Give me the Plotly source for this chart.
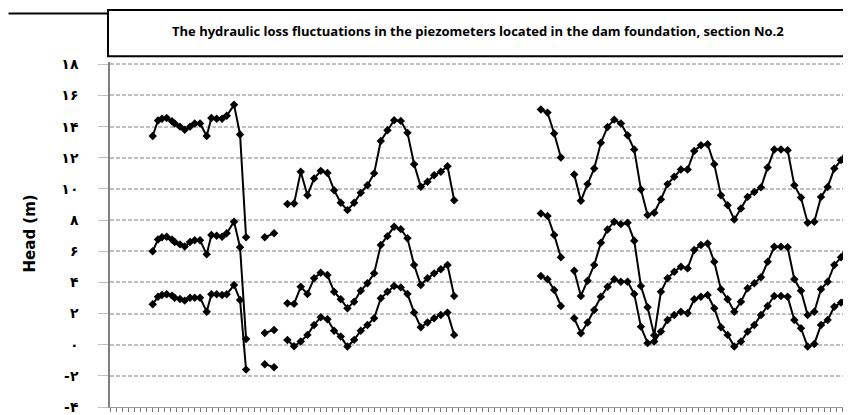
import plotly.graph_objects as go

# reading positions (one unit ~ one reading interval)
x_seg1 = [5.8, 6.6, 7.2, 7.9, 8.7, 9.1, 9.9, 10.6, 11.4, 12.1, 12.9, 13.9, 14.6, 15.4, 16.2, 16.9, 18.0, 18.9, 19.8]
x_seg2 = [22.6, 24.0]
x_seg3 = [26, 27, 28, 29, 30, 31, 32, 33, 34, 35, 36, 37, 38, 39, 40, 41, 42, 43, 44, 45, 46, 47, 48, 49, 50, 51]
x_seg4 = [64, 65, 66, 67]
x_seg5 = [69, 70, 71, 72, 73, 74, 75, 76, 77, 78, 79, 80, 81, 82, 83, 84, 85, 86, 87, 88, 89,
          90, 91, 92, 93, 94, 95, 96, 97, 98, 99, 100, 101, 102, 103, 104, 105, 106, 107, 108, 109, 110]

# upper piezometer
head_a1 = [13.4, 14.4, 14.5, 14.55, 14.35, 14.2, 14.0, 13.8, 14.0, 14.2, 14.2, 13.4, 14.55, 14.5, 14.5, 14.7, 15.4, 13.5, 6.9]
head_a2 = [6.9, 7.15]
head_a3 = [9.03, 9.07, 11.1, 9.6, 10.67, 11.16, 11.03, 9.92, 9.11, 8.64, 9.11, 9.75, 10.24, 11.0,
           13.08, 13.77, 14.41, 14.37, 13.6, 11.59, 10.14, 10.46, 10.88, 11.1, 11.46, 9.28]
head_a4 = [15.1, 14.9, 13.56, 12.02]
head_a5 = [10.93, 9.24, 10.31, 11.31, 12.96, 13.98, 14.45, 14.2, 13.45, 12.53, 9.97, 8.32, 8.47, 9.33,
           10.31, 10.78, 11.25, 11.25, 12.44, 12.81, 12.87, 11.59, 9.6, 8.96, 8.04, 8.75, 9.49, 9.81,
           10.1, 11.38, 12.53, 12.53, 12.49, 10.24, 9.45, 7.83, 7.9, 9.49, 10.13, 11.31, 11.85, 12.74]

# middle piezometer
head_b1 = [6.0, 6.76, 6.9, 6.93, 6.76, 6.6, 6.44, 6.3, 6.6, 6.7, 6.7, 5.8, 7.04, 7.0, 6.93, 7.15, 7.9, 6.25, 0.37]
head_b2 = [0.75, 0.95]
head_b3 = [2.66, 2.62, 3.72, 3.26, 4.26, 4.62, 4.47, 3.4, 2.92, 2.34, 2.76, 3.47, 3.94, 4.58,
           6.4, 6.97, 7.57, 7.42, 6.83, 5.12, 3.83, 4.26, 4.58, 4.84, 5.12, 3.13]
head_b4 = [8.43, 8.26, 7.04, 5.61]
head_b5 = [4.75, 3.13, 4.11, 5.12, 6.55, 7.4, 7.9, 7.74, 7.83, 6.67, 3.77, 2.4, 0.6, 3.4,
           4.26, 4.69, 5.01, 4.9, 6.08, 6.4, 6.5, 5.33, 3.56, 2.92, 2.12, 2.76, 3.62, 3.94,
           4.33, 5.33, 6.29, 6.29, 6.25, 4.2, 3.47, 1.91, 2.12, 3.56, 4.04, 5.12, 5.61, 6.5]

# lower piezometer
head_c1 = [2.6, 3.08, 3.19, 3.24, 3.15, 3.02, 2.94, 2.83, 3.02, 3.02, 3.02, 2.12, 3.24, 3.24, 3.19, 3.24, 3.83, 2.87, -1.6]
head_c2 = [-1.25, -1.45]
head_c3 = [0.3, -0.1, 0.2, 0.63, 1.27, 1.76, 1.63, 0.9, 0.52, -0.12, 0.31, 0.9, 1.27, 1.7,
           2.98, 3.4, 3.77, 3.68, 3.26, 2.06, 1.12, 1.42, 1.7, 1.91, 2.06, 0.63]
head_c4 = [4.41, 4.2, 3.51, 2.49]
head_c5 = [1.7, 0.74, 1.42, 2.23, 3.08, 3.72, 4.2, 4.04, 4.04, 3.26, 1.16, 0.1, 0.2, 0.84,
           1.59, 1.91, 2.12, 2.02, 2.92, 3.08, 3.19, 2.34, 1.12, 0.63, -0.12, 0.2, 0.84, 1.27,
           1.91, 2.49, 3.13, 3.13, 3.08, 1.59, 1.06, -0.12, 0.05, 1.27, 1.59, 2.44, 2.7, 3.26]

y_tickvals = [18, 16, 14, 12, 10, 8, 6, 4, 2, 0, -2, -4]
y_ticktext = ["۱۸", "۱۶", "۱۴", "۱۲", "۱۰", "۸", "۶", "۴", "۲", "۰", "-۲", "-۴"]

title_text = "The hydraulic loss fluctuations in the piezometers located in the dam foundation, section No.2"


def join_segments(parts):
    # glue segments with None so the line breaks at data gaps
    out = []
    for i, p in enumerate(parts):
        if i > 0:
            out.append(None)
        out.extend(p)
    return out


x_all = join_segments([x_seg1, x_seg2, x_seg3, x_seg4, x_seg5])
series = {
    "A": join_segments([head_a1, head_a2, head_a3, head_a4, head_a5]),
    "B": join_segments([head_b1, head_b2, head_b3, head_b4, head_b5]),
    "C": join_segments([head_c1, head_c2, head_c3, head_c4, head_c5]),
}

fig = go.Figure()
for name, ys in series.items():
    fig.add_trace(
        go.Scatter(
            x=x_all,
            y=ys,
            mode="lines+markers",
            name=name,
            line=dict(color="black", width=2),
            marker=dict(symbol="diamond", size=6.5, color="black"),
            connectgaps=False,
            showlegend=False,
        )
    )

# page has an 8px body margin, so the figure is 8px smaller than the window
fig.update_layout(
    width=843,
    height=407,
    margin=dict(l=102, r=0, t=54, b=8),
    plot_bgcolor="white",
    paper_bgcolor="white",
    xaxis=dict(
        range=[-0.6, 110.5],
        showgrid=False,
        zeroline=False,
        showticklabels=False,
        ticks="outside",
        ticklen=4,
        tickwidth=1,
        tickcolor="#777777",
        tick0=-0.6,
        dtick=0.9,
        showline=True,
        linecolor="#999999",
        linewidth=1,
    ),
    yaxis=dict(
        range=[-4, 18.15],
        tickvals=y_tickvals,
        ticktext=y_ticktext,
        tickfont=dict(family="DejaVu Sans", size=14, color="black", weight="bold"),
        ticks="outside",
        ticklen=10,
        tickcolor="#c0c0c0",
        ticklabelstandoff=17,
        showgrid=True,
        gridcolor="#c0c0c0",
        gridwidth=1.5,
        griddash="4px,2px",
        zeroline=False,
        showline=True,
        linecolor="#808080",
        linewidth=1.5,
    ),
    shapes=[
        # title box
        dict(type="rect", xref="paper", yref="paper",
             x0=-0.0027, x1=0.9933, y0=1.017, y1=1.151,
             line=dict(color="black", width=2), fillcolor="white"),
    ],
    annotations=[
        # short rule at top left, drawn as a thin filled label
        dict(text="", xref="paper", yref="paper",
             x=-0.0027, y=1.14, xanchor="right", yanchor="middle", showarrow=False,
             width=98, height=1, bgcolor="black", borderpad=0),
        dict(text="<b>" + title_text + "</b>", xref="paper", yref="paper",
             x=0.497, y=1.09, xanchor="center", yanchor="middle", showarrow=False,
             font=dict(family="Open Sans", size=13, color="black")),
        dict(text="<b>Head (m)</b>", xref="paper", yref="paper",
             x=-0.108, y=0.503, xanchor="center", yanchor="middle", showarrow=False,
             textangle=-90, font=dict(family="DejaVu Sans", size=15, color="black")),
    ],
)

fig.write_html("out.html")
